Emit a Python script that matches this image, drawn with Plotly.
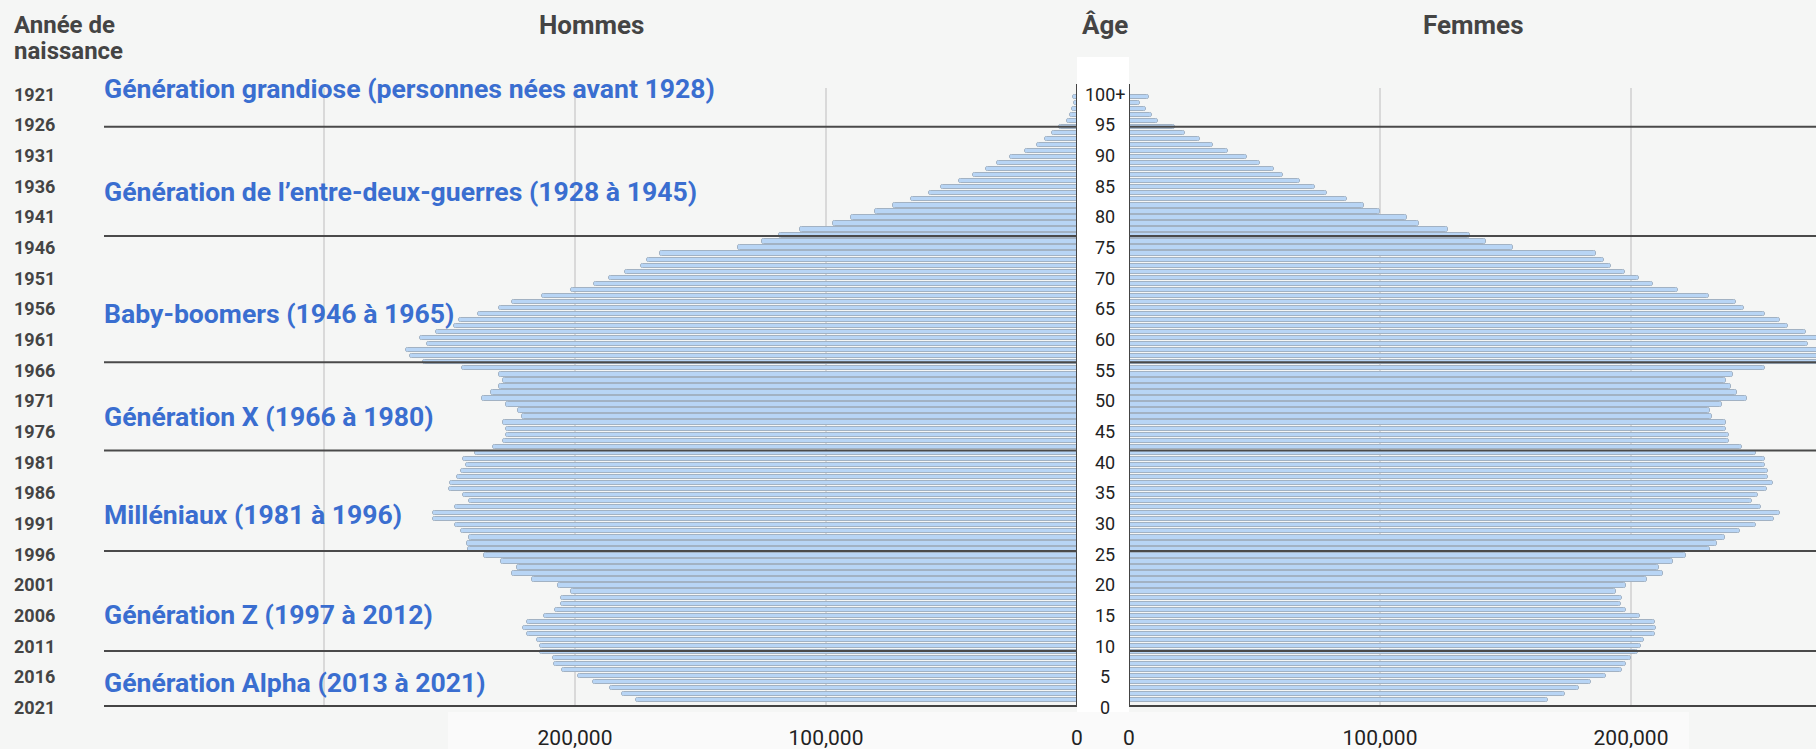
import plotly.graph_objects as go

W, H = 1816, 749

ages = list(range(0, 101))

hommes = [
    175600, 181400, 185900, 192700, 199000, 205100, 208200, 208900, 213900, 213900,
    215300, 219200, 220800, 219200, 212300, 207900, 205600, 205600, 201700, 206900,
    217300, 225300, 223100, 229300, 236300, 242700, 243000, 242400, 245600, 247900,
    256600, 256600, 247900, 242400, 244500, 250200, 249700, 247000, 245600, 243300,
    244500, 239900, 232600, 228500, 227300, 227300, 228500, 221200, 222800, 227300,
    236900, 233500, 230100, 228500, 230100, 244900, 260500, 265800, 267300, 258900,
    261600, 255500, 248100, 246300, 238500, 230100, 225000, 213100, 201700, 192600,
    186400, 180000, 173600, 171300, 166300, 134900, 125600, 118700, 110200, 97200,
    89900, 80300, 73400, 66100, 59000, 54200, 46900, 41400, 36400, 31800,
    26800, 20600, 16000, 12600, 9800, 7000, 4000, 2800, 2100, 1000,
    1500,
]

femmes = [
    167000, 173900, 179100, 184200, 190200, 196600, 198200, 200100, 202700, 204000,
    205000, 209500, 210000, 209500, 203400, 198200, 196000, 196600, 193900, 198200,
    206200, 212600, 211200, 216800, 222100, 231600, 234300, 237300, 243300, 249700,
    257100, 259300, 251900, 248400, 250700, 254200, 256500, 254600, 254600, 253200,
    253200, 249700, 244100, 238900, 238900, 237900, 237900, 232200, 231600, 236100,
    246200, 242100, 240000, 238000, 240600, 253200, 276000, 278000, 280000, 270700,
    277000, 269600, 262400, 259400, 253200, 245200, 241900, 231000, 218600, 208900,
    203200, 197800, 191900, 189200, 185900, 153000, 142100, 135900, 126900, 115500,
    110600, 100100, 93500, 86700, 78700, 74200, 68000, 61200, 57900, 52000,
    47000, 39600, 33300, 28300, 22400, 18200, 11700, 9000, 6900, 4300,
    8000,
]

annees_naissance = [1921, 1926, 1931, 1936, 1941, 1946, 1951, 1956, 1961, 1966, 1971,
                    1976, 1981, 1986, 1991, 1996, 2001, 2006, 2011, 2016, 2021]
etiquettes_age = ['100+', '95', '90', '85', '80', '75', '70', '65', '60', '55', '50',
                  '45', '40', '35', '30', '25', '20', '15', '10', '5', '0']

generations = [
    'Génération grandiose (personnes nées avant 1928)',
    'Génération de l’entre-deux-guerres (1928 à 1945)',
    'Baby-boomers (1946 à 1965)',
    'Génération X (1966 à 1980)',
    'Milléniaux (1981 à 1996)',
    'Génération Z (1997 à 2012)',
    'Génération Alpha (2013 à 2021)',
]

# ---- mise en page (positions en pixels de l'image) ----
def px_x(p):
    return p / W

def px_y(p):
    return 1 - p / H

PX_100K = 251.0
G_START, G_ZERO = 104, 1077      # panneau hommes
D_ZERO, D_END = 1129, 1816       # panneau femmes
Y_TOP, Y_BOT = 88, 705

# axe des barres : âge a -> pixel 700.3 - 6.036 a
age_range = [(700.3 - Y_BOT) / 6.036, (700.3 - Y_TOP) / 6.036]
# axe des années de naissance (toute la hauteur) : année -> pixel 94.3 + 6.13 (année - 1921)
an_range = [1921 + (H - 94.3) / 6.13, 1921 + (0 - 94.3) / 6.13]

# séparateurs et étiquettes de générations (années sur l'axe des années)
separateurs = [1926.3, 1944.1, 1964.7, 1979.1, 1995.5, 2011.8]
pos_generations = [1920.1, 1936.8, 1956.7, 1973.6, 1989.5, 2005.8, 2017.0]

BG = '#f5f6f5'
BAR_COLOR = '#b8d5f5'
BAR_EDGE = '#a2b2c3'
BLEU = '#3a6ed0'
GRIS = '#444444'
FONT = 'Roboto'

fig = go.Figure()

fig.add_trace(go.Bar(
    y=ages, x=hommes, orientation='h', xaxis='x', yaxis='y', width=0.72,
    marker=dict(color=BAR_COLOR, line=dict(color=BAR_EDGE, width=1), cornerradius=2),
    name='Hommes', showlegend=False,
))
fig.add_trace(go.Bar(
    y=ages, x=femmes, orientation='h', xaxis='x2', yaxis='y', width=0.72,
    marker=dict(color=BAR_COLOR, line=dict(color=BAR_EDGE, width=1), cornerradius=2),
    name='Femmes', showlegend=False,
))
# trace invisible pour activer l'axe des années
fig.add_trace(go.Scatter(
    x=[0.5], y=[1970], xaxis='x3', yaxis='y2', mode='markers',
    marker=dict(opacity=0), hoverinfo='skip', showlegend=False,
))

axis_common = dict(
    showgrid=True, gridcolor='#d9d9d9', gridwidth=1.5, zeroline=False,
    showline=True, linecolor=GRIS, linewidth=2, ticks='',
    tickfont=dict(family=FONT, size=21, color='#222222'),
    ticklabelstandoff=13, anchor='y', fixedrange=True, automargin=False,
)

fig.update_layout(
    width=W, height=H,
    autosize=False,
    margin=dict(l=0, r=0, t=0, b=0, pad=0, autoexpand=False),
    paper_bgcolor=BG,
    plot_bgcolor='rgba(0,0,0,0)',
    showlegend=False,
    bargap=0,
    xaxis=dict(
        domain=[px_x(G_START), px_x(G_ZERO)],
        range=[(G_ZERO - G_START) / PX_100K * 1e5, 0],
        tickvals=[0, 100000, 200000, 300000],
        ticktext=['0', '100,000', '200,000', ''],
        **axis_common,
    ),
    xaxis2=dict(
        domain=[px_x(D_ZERO), 1],
        range=[0, (D_END - D_ZERO) / PX_100K * 1e5],
        tickvals=[0, 100000, 200000],
        ticktext=['0', '100,000', '200,000'],
        **axis_common,
    ),
    xaxis3=dict(domain=[0, 1], range=[0, 1], visible=False, showgrid=False,
                anchor='y2', fixedrange=True, automargin=False),
    yaxis=dict(
        domain=[px_y(Y_BOT), px_y(Y_TOP)],
        range=age_range, visible=False, showgrid=False, anchor='x', fixedrange=True,
        automargin=False,
    ),
    yaxis2=dict(
        domain=[0, 1], range=an_range, visible=False,
        showgrid=False, anchor='x3', fixedrange=True, automargin=False,
    ),
)

shapes = [
    # bande claire sous les étiquettes de l'axe
    dict(type='rect', xref='paper', yref='paper', layer='below',
         x0=px_x(448), x1=px_x(1689), y0=px_y(749), y1=px_y(712),
         fillcolor='#fafafa', line=dict(width=0)),
    # colonne blanche des âges
    dict(type='rect', xref='paper', yref='paper', layer='below',
         x0=px_x(G_ZERO), x1=px_x(D_ZERO), y0=px_y(712), y1=px_y(57),
         fillcolor='#ffffff', line=dict(width=0)),
    # axes verticaux de part et d'autre de la colonne des âges
    dict(type='line', xref='x', yref='paper', x0=0, x1=0,
         y0=px_y(Y_BOT), y1=px_y(84), line=dict(color=GRIS, width=2), layer='above'),
    dict(type='line', xref='x2', yref='paper', x0=0, x1=0,
         y0=px_y(Y_BOT), y1=px_y(84), line=dict(color=GRIS, width=2), layer='above'),
]
for s in separateurs:
    for xr in ('x domain', 'x2 domain'):
        shapes.append(dict(type='line', xref=xr, yref='y2', x0=0, x1=1, y0=s, y1=s,
                           line=dict(color='#4a4a4a', width=2), layer='above'))

annotations = [
    dict(text='Année de', x=px_x(12), y=px_y(25)),
    dict(text='naissance', x=px_x(12), y=px_y(51)),
]
annotations = [dict(a, xref='paper', yref='paper', xanchor='left', yanchor='middle',
                    showarrow=False,
                    font=dict(family=FONT, size=24, color=GRIS, weight=700))
               for a in annotations]

for txt, xc in (('Hommes', 591), ('Âge', 1105), ('Femmes', 1473)):
    annotations.append(dict(text=txt, x=px_x(xc), y=px_y(25), xref='paper', yref='paper',
                            xanchor='center', yanchor='middle', showarrow=False,
                            font=dict(family=FONT, size=26, color=GRIS, weight=700)))

for an, ag in zip(annees_naissance, etiquettes_age):
    annotations.append(dict(text=str(an), x=px_x(12), y=an, xref='paper', yref='y2',
                            xanchor='left', yanchor='middle', showarrow=False,
                            font=dict(family=FONT, size=18, color=GRIS, weight=700)))
    annotations.append(dict(text=ag, x=px_x(1105), y=an, xref='paper', yref='y2',
                            xanchor='center', yanchor='middle', showarrow=False,
                            font=dict(family=FONT, size=18, color='#222222')))

for txt, yy in zip(generations, pos_generations):
    annotations.append(dict(text=txt, x=px_x(G_START - 2), y=yy, xref='paper', yref='y2',
                            xanchor='left', yanchor='middle', showarrow=False,
                            font=dict(family=FONT, size=26.6, color=BLEU, weight=700)))

fig.update_layout(shapes=shapes, annotations=annotations)

# pas de marge de page autour de la figure, pas de barre d'outils
fig.write_html(
    'out.html',
    config={'displayModeBar': False},
    post_script="document.body.style.margin='0';"
                "document.body.style.background='%s';" % BG,
)
